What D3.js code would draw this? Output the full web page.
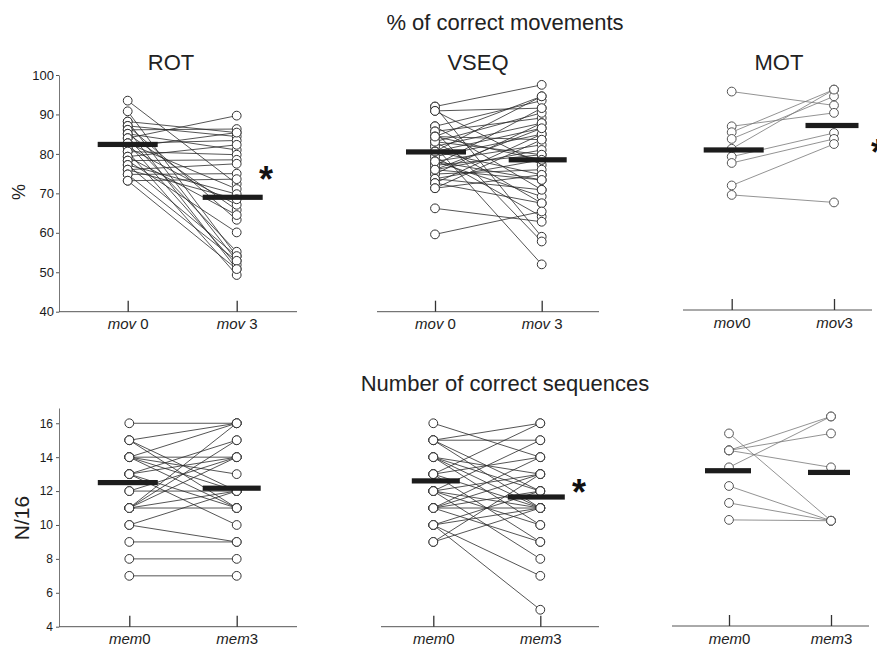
<!DOCTYPE html>
<html lang="en">
<head>
<meta charset="utf-8">
<title>Correct movements and sequences</title>
<script src="https://d3js.org/d3.v7.min.js"></script>
<style>
  body { margin: 0; background: #fff; }
  svg text { font-family: "Liberation Sans", Arial, sans-serif; }
</style>
</head>
<body>
<script>

// ---- data ----
var movCats = ["mov 0", "mov 3"];
var movCatsMot = ["mov0", "mov3"];
var memCats = ["mem0", "mem3"];

var topTicks = [40, 50, 60, 70, 80, 90, 100];
var bottomTicks = [4, 6, 8, 10, 12, 14, 16];

// % of correct movements, paired (before, after)
var rotMov0 = [93.5,90.8,88.2,88.2,87.1,87.1,86.1,86.1,85.1,85.1,84.0,84.0,82.7,82.7,82.7,81.7,81.7,80.6,80.6,79.3,79.3,78.3,78.3,77.2,77.2,76.0,76.0,74.8,74.8,73.2,73.2];
var rotMov3 = [72.4,54.1,85.4,52.9,84.4,63.3,86.3,50.8,81.0,65.8,89.7,55.2,83.4,71.1,51.9,85.4,67.1,79.8,49.3,82.3,64.5,78.5,60.1,69.8,54.1,77.5,68.5,75.0,52.9,73.6,50.8];
var rotMeans = [82.4, 69.0];

var vseqMov0 = [92.0,92.0,90.9,90.9,87.0,87.0,85.7,85.7,84.4,84.4,83.1,83.1,81.9,81.9,80.6,80.6,79.3,79.3,78.1,78.1,77.1,77.1,76.0,76.0,74.9,74.9,73.7,73.7,72.6,72.6,71.3,71.3,66.2,59.6,83.1,80.6,84.4,78.1,76.0];
var vseqMov3 = [97.5,59.0,91.6,77.2,93.5,70.9,89.1,57.8,94.6,83.6,90.4,67.5,87.8,52.0,86.5,74.7,85.0,64.1,82.3,69.2,91.6,79.8,81.0,73.4,87.8,76.0,78.5,70.9,85.0,67.5,83.6,74.7,62.8,65.4,79.8,94.6,78.5,73.4,86.5];
var vseqMeans = [80.5, 78.5];

var motMov0 = [95.8,87.0,85.5,83.8,81.3,79.3,77.7,72.0,69.6];
var motMov3 = [92.3,90.4,96.3,94.6,96.3,85.3,83.8,82.5,67.7];
var motMeans = [81.0, 87.2];

// number of correct sequences (N/16)
var rotMem0 = [16,15,15,15,14,14,14,14,14,13,13,13,13,12,12,11,11,11,11,11,10,10,9,8,7];
var rotMem3 = [16,16,12,11,16,14,13,12,11,15,14,11,10,14,12,16,15,14,11,12,12,9,9,8,7];
var rotMemMeans = [12.5, 12.17];

var vseqMem0 = [16,15,15,15,15,14,14,14,14,13,13,13,13,12,12,12,12,12,11,11,11,11,11,10,10,10,10,9,9];
var vseqMem3 = [14,16,15,12,11,13,12,11,10,16,14,11,9,15,13,11,10,8,14,13,12,11,9,12,11,7,5,13,11];
var vseqMemMeans = [12.6, 11.65];

var motMem0 = [15.4,14.4,14.4,14.4,13.4,12.3,11.3,10.3];
var motMem3 = [10.25,16.4,15.4,13.4,16.4,10.25,10.25,10.25];
var motMemMeans = [13.2, 13.1];

// ---- layout ----
var w = 877, h = 648;

var svg = d3.select("body").append("svg")
  .attr("width", w)
  .attr("height", h);

var yTop = d3.scaleLinear().domain([40, 100]).range([311.7, 75]);
var yBot = d3.scaleLinear().domain([4, 16.9]).range([626.7, 408]);

var panels = [
  { cats: movCats, pre: rotMov0, post: rotMov3, means: rotMeans, y: yTop, axisY: 311.7,
    px: [127.7, 236.7], ax: [59, 297], bw: [60, 60], bx: [0, -4], line: "#2a2a2a", dot: "#333" },
  { cats: movCats, pre: vseqMov0, post: vseqMov3, means: vseqMeans, y: yTop, axisY: 311.7,
    px: [435, 541.7], ax: [377, 599], bw: [60, 58], bx: [1, -4], line: "#2a2a2a", dot: "#333" },
  { cats: movCatsMot, pre: motMov0, post: motMov3, means: motMeans, y: yTop, axisY: 310,
    px: [731.7, 834], ax: [683, 872], bw: [60, 53], bx: [2, -2], line: "#777", dot: "#555" },
  { cats: memCats, pre: rotMem0, post: rotMem3, means: rotMemMeans, y: yBot, axisY: 626.7,
    px: [129.3, 236.7], ax: [59, 297], bw: [60, 58], bx: [-1.5, -5], line: "#2a2a2a", dot: "#333" },
  { cats: memCats, pre: vseqMem0, post: vseqMem3, means: vseqMemMeans, y: yBot, axisY: 626.7,
    px: [433.3, 540.3], ax: [381, 599], bw: [48, 57], bx: [2.5, -4], line: "#2a2a2a", dot: "#333" },
  { cats: memCats, pre: motMem0, post: motMem3, means: motMemMeans, y: yBot, axisY: 626,
    px: [729, 831], ax: [672, 869], bw: [46, 42], bx: [-1, -2], line: "#777", dot: "#555" }
];

// titles
svg.append("text").attr("x", 505).attr("y", 30).attr("text-anchor", "middle")
  .style("font-size", "22px").attr("fill", "#222").text("% of correct movements");
svg.append("text").attr("x", 505).attr("y", 391).attr("text-anchor", "middle")
  .style("font-size", "22px").attr("fill", "#222").text("Number of correct sequences");

var names = [["ROT", 171], ["VSEQ", 478], ["MOT", 779]];
names.forEach(function (n) {
  svg.append("text").attr("x", n[1]).attr("y", 70).attr("text-anchor", "middle")
    .style("font-size", "22px").attr("fill", "#222").text(n[0]);
});

// y axes (left column only)
var yAxisTop = d3.axisLeft(yTop).tickValues(topTicks).tickSizeInner(3).tickSizeOuter(0).tickPadding(2);
var gy1 = svg.append("g").attr("transform", "translate(59,0)").call(yAxisTop);

var yAxisBot = d3.axisLeft(yBot).tickValues(bottomTicks).tickSizeInner(3).tickSizeOuter(0).tickPadding(3);
var gy2 = svg.append("g").attr("transform", "translate(59,0)").call(yAxisBot);

[gy1, gy2].forEach(function (g) {
  g.select(".domain").attr("stroke", "#777");
  g.selectAll(".tick line").attr("stroke", "#555");
  g.selectAll(".tick text").attr("fill", "#1a1a1a")
    .style("font-family", "'Liberation Sans', Arial, sans-serif");
});
gy1.selectAll(".tick text").style("font-size", "13px");
gy2.selectAll(".tick text").style("font-size", "12px");

svg.append("text")
  .attr("transform", "translate(25,192) rotate(-90)")
  .attr("text-anchor", "middle")
  .style("font-size", "18px").attr("fill", "#222").text("%");
svg.append("text")
  .attr("transform", "translate(29,518) rotate(-90)")
  .attr("text-anchor", "middle")
  .style("font-size", "21px").attr("fill", "#222").text("N/16");

// panels
panels.forEach(function (p) {
  var x = d3.scalePoint().domain(p.cats).range(p.px);

  var xAxis = d3.axisBottom(x).tickSizeInner(-11).tickSizeOuter(0).tickPadding(7);
  var gx = svg.append("g").attr("transform", "translate(0," + p.axisY + ")").call(xAxis);
  gx.select(".domain").attr("d", "M" + p.ax[0] + ",0H" + p.ax[1]).attr("stroke", "#555");
  gx.selectAll(".tick line").attr("stroke", "#333").attr("stroke-width", 1.3);
  gx.selectAll(".tick text").each(function (d) {
    var t = d3.select(this).text("")
      .style("font-size", "15px")
      .style("font-family", "'Liberation Sans', Arial, sans-serif")
      .attr("fill", "#222");
    var m = d.match(/^([a-z]+)(\s?)(\d)$/);
    t.append("tspan").style("font-style", "italic").text(m[1] + m[2]);
    t.append("tspan").text(m[3]);
  });

  var pairs = p.pre.map(function (v, i) { return [v, p.post[i]]; });

  var g = svg.append("g");
  g.selectAll("line.pair")
    .data(pairs)
    .enter()
    .append("line")
    .attr("class", "pair")
    .attr("x1", x(p.cats[0]))
    .attr("x2", x(p.cats[1]))
    .attr("y1", d => p.y(d[0]))
    .attr("y2", d => p.y(d[1]))
    .attr("stroke", p.line)
    .attr("stroke-width", 0.8);

  [0, 1].forEach(function (k) {
    g.selectAll("circle.c" + k)
      .data(pairs)
      .enter()
      .append("circle")
      .attr("class", "c" + k)
      .attr("cx", x(p.cats[k]))
      .attr("cy", d => p.y(d[k]))
      .attr("r", 4.4)
      .attr("fill", "#fff")
      .attr("stroke", p.dot)
      .attr("stroke-width", 1);
  });

  g.selectAll("rect.mean")
    .data(p.means)
    .enter()
    .append("rect")
    .attr("class", "mean")
    .attr("x", (d, i) => x(p.cats[i]) + p.bx[i] - p.bw[i] / 2)
    .attr("y", d => p.y(d) - 2.6)
    .attr("width", (d, i) => p.bw[i])
    .attr("height", 5.2)
    .attr("fill", "#1c1c1c");
});

// significance marks (the last one is cut by the right edge, as in the figure)
var stars = [[266, 192], [579, 505], [878, 165]];
stars.forEach(function (s) {
  svg.append("text").attr("x", s[0]).attr("y", s[1])
    .attr("text-anchor", "middle")
    .style("font-size", "36px").style("font-weight", "bold")
    .attr("fill", "#111").text("*");
});

</script>
</body>
</html>
